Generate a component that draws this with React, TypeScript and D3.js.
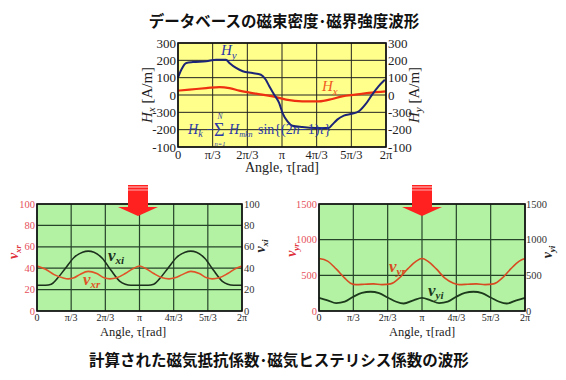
import React from "react";
import * as d3 from "d3";

// ---------- data ----------
const xTickVals = [0, 60, 120, 180, 240, 300, 360];
const xTickLabels = ["0", "π/3", "2π/3", "π", "4π/3", "5π/3", "2π"];

// Top chart (degrees, A/m)
const hyAngle = [0, 5.7, 14.4, 25.8, 48.8, 66, 83, 89, 100.5, 112, 129, 143.5, 152, 158, 166.5, 175, 181, 189.5, 198, 215, 238, 261, 267, 275.6, 287, 301, 313, 324, 336, 347, 358];
const hyValue = [100, 146, 185, 190, 194, 204, 204, 185, 156, 137, 127, 117, 88, 50, 2, -46, -104, -152, -177, -185, -190, -190, -171, -142, -119, -108, -94, -56, 2, 50, 88];
const hxAngle = [0, 20, 49, 72, 89, 106, 135, 164, 187, 215, 244, 267, 284, 307, 330, 360];
const hxValue = [25, 31, 40, 46, 40, 25, 8, -8, -27, -37, -37, -23, -8, 2, 12, 21];
const hTicks = [300, 200, 100, 0, -100, -200, -300];
const hTickLabels = ["300", "200", "100", "0", "-300", "-200", "-100"];

// Bottom-left chart
const vxiAngle = [0, 15, 25, 35, 50, 65, 80, 90, 100, 115, 130, 145, 155, 165, 180, 195, 205, 215, 230, 245, 260, 270, 280, 295, 310, 325, 335, 345, 360];
const vxiValue = [24, 24, 25, 30, 40, 50, 55, 56, 55, 49, 38, 28, 25, 24, 24, 24, 25, 30, 40, 50, 55, 56, 55, 49, 38, 28, 25, 24, 24];
const vxrAngle = [0, 15, 30, 45, 55, 65, 75, 90, 105, 118, 128, 140, 155, 170, 180, 190, 205, 220, 232, 242, 255, 270, 285, 298, 308, 320, 335, 350, 360];
const vxrValue = [42, 39, 34, 31, 30, 31, 34, 37, 35, 31, 30, 31, 35, 40, 42, 40, 35, 31, 30, 31, 34, 37, 35, 31, 30, 31, 35, 40, 42];
const vxTicks = [0, 20, 40, 60, 80, 100];

// Bottom-right chart
const vyrAngle = [0, 15, 30, 45, 55, 65, 80, 95, 110, 125, 140, 155, 170, 180, 190, 205, 220, 235, 245, 260, 275, 290, 305, 320, 335, 350, 360];
const vyrValue = [735, 700, 590, 460, 390, 370, 375, 380, 370, 380, 460, 590, 700, 735, 700, 590, 460, 390, 370, 375, 380, 370, 380, 460, 590, 700, 735];
const vyiAngle = [0, 15, 30, 45, 60, 75, 90, 105, 120, 135, 148, 165, 180, 195, 210, 225, 240, 255, 270, 285, 300, 315, 328, 345, 360];
const vyiValue = [185, 150, 110, 130, 200, 255, 270, 250, 190, 130, 105, 150, 185, 150, 110, 130, 200, 255, 270, 250, 190, 130, 105, 150, 185];
const vyTicks = [0, 500, 1000, 1500];

const SERIF = "'Liberation Serif', 'DejaVu Serif', serif";
const CJK = "'Noto Sans CJK JP', sans-serif";

type Series = { angle: number[]; value: number[]; color: string; width: number };

function Panel(props: {
  x0: number; x1: number; y0: number; y1: number;
  domain: [number, number]; ticks: number[]; tickLabels: string[];
  bg: string; grid: string; gridW: number;
  series: Series[];
  leftColor: string; rightColor: string; tickFont: number;
  xLabelY: number; xFont: number; titleY: number; titleFont: number; titleX?: number;
  leftLabelX: number; rightLabelX: number;
}) {
  const p = props;
  const x = d3.scaleLinear().domain([0, 360]).range([p.x0, p.x1]);
  const y = d3.scaleLinear().domain(p.domain).range([p.y1, p.y0]);
  const line = d3.line<[number, number]>().x(d => x(d[0])).y(d => y(d[1])).curve(d3.curveMonotoneX);
  return (
    <g>
      <rect x={p.x0} y={p.y0} width={p.x1 - p.x0} height={p.y1 - p.y0} fill={p.bg} />
      {xTickVals.map(v => (
        <line key={"gx" + v} x1={x(v)} x2={x(v)} y1={p.y0} y2={p.y1} stroke={p.grid} strokeWidth={p.gridW} />
      ))}
      {p.ticks.map(v => (
        <line key={"gy" + v} x1={p.x0} x2={p.x1} y1={y(v)} y2={y(v)} stroke={p.grid} strokeWidth={p.gridW} />
      ))}
      {p.series.map((s, i) => (
        <path key={"s" + i} d={line(s.angle.map((a, j) => [a, s.value[j]] as [number, number])) || ""}
          fill="none" stroke={s.color} strokeWidth={s.width} strokeLinejoin="round" />
      ))}
      <rect x={p.x0} y={p.y0} width={p.x1 - p.x0} height={p.y1 - p.y0} fill="none" stroke="#111" strokeWidth={1.6} />
      {p.ticks.map((v, i) => (
        <text key={"ly" + v} x={p.leftLabelX} y={y(v)} dy="0.35em" textAnchor="end" fontFamily={SERIF}
          fontSize={p.tickFont} fill={p.leftColor}>{p.tickLabels[i]}</text>
      ))}
      {p.ticks.map((v, i) => (
        <text key={"ry" + v} x={p.rightLabelX} y={y(v)} dy="0.35em" textAnchor="start" fontFamily={SERIF}
          fontSize={p.tickFont} fill={p.rightColor}>{p.tickLabels[i]}</text>
      ))}
      {xTickVals.map((v, i) => (
        <text key={"lx" + v} x={x(v)} y={p.xLabelY} textAnchor="middle" fontFamily={SERIF}
          fontSize={p.xFont} fill="#222">{xTickLabels[i]}</text>
      ))}
      <text x={p.titleX ?? (p.x0 + p.x1) / 2} y={p.titleY} textAnchor="middle" fontFamily={SERIF}
        fontSize={p.titleFont} fill="#222">Angle, τ[rad]</text>
    </g>
  );
}

function Arrow({ cx }: { cx: number }) {
  return (
    <g>
      <rect x={cx - 10} y={185} width={20} height={23} fill="#ff2020" />
      <path d={`M${cx - 20},207 L${cx + 20},207 L${cx},216 Z`} fill="#ff2020" />
      <line x1={cx - 10} x2={cx + 10} y1={187} y2={187} stroke="#ffd0d0" strokeWidth={1} />
      <line x1={cx - 10} x2={cx + 10} y1={190} y2={190} stroke="#ffb0b0" strokeWidth={1} />
    </g>
  );
}

export default function App() {
  return (
    <svg width={566} height={380} style={{ position: "absolute", left: 0, top: 0, background: "#fff" }}>
      <text x={284} y={27} textAnchor="middle" fontFamily={CJK} fontSize={15.5} fontWeight={600} fill="#111">
        データベースの磁束密度･磁界強度波形
      </text>

      <Panel x0={178} x1={386} y0={43} y1={147} domain={[-300, 300]} ticks={hTicks} tickLabels={hTickLabels}
        bg="#ffff8c" grid="#222" gridW={1} leftColor="#222" rightColor="#222" tickFont={13}
        series={[
          { angle: hxAngle, value: hxValue, color: "#ee3010", width: 2.2 },
          { angle: hyAngle, value: hyValue, color: "#1c2478", width: 2 },
        ]}
        xLabelY={159} xFont={12.5} titleY={172} titleFont={14} leftLabelX={176} rightLabelX={388} />
      <text transform="translate(152,95) rotate(-90)" textAnchor="middle" fontFamily={SERIF} fontSize={15} fill="#222">
        <tspan fontStyle="italic">H</tspan><tspan fontStyle="italic" fontSize={11} dy={3}>x</tspan><tspan dy={-3}> [A/m]</tspan>
      </text>
      <text transform="translate(419,95) rotate(-90)" textAnchor="middle" fontFamily={SERIF} fontSize={15} fill="#222">
        <tspan fontStyle="italic">H</tspan><tspan fontStyle="italic" fontSize={11} dy={3}>y</tspan><tspan dy={-3}> [A/m]</tspan>
      </text>
      <text x={221} y={55} fontFamily={SERIF} fontStyle="italic" fontSize={15} fill="#2a38a8">
        H<tspan fontSize={11} dy={4}>y</tspan>
      </text>
      <text x={322} y={91} fontFamily={SERIF} fontStyle="italic" fontSize={15} fill="#f05a20">
        H<tspan fontSize={11} dy={4}>x</tspan>
      </text>
      <g fontFamily={SERIF} fill="#2a38a8">
        <text x={188} y={134} fontSize={14} fontStyle="italic">
          H<tspan fontSize={10} dy={3}>k</tspan><tspan dy={-3}> −</tspan>
        </text>
        <text x={214} y={136} fontSize={18}>Σ</text>
        <text x={220} y={119} fontSize={7.5} fontStyle="italic" textAnchor="middle">N</text>
        <text x={220} y={146} fontSize={6.5} fontStyle="italic" textAnchor="middle">n=1</text>
        <text x={229} y={134} fontSize={14} fontStyle="italic">
          H<tspan fontSize={8} dy={3}>mkn</tspan>
        </text>
        <text x={258} y={134} fontSize={14}>
          sin{"{"}(2<tspan fontStyle="italic">n</tspan>−1)<tspan fontStyle="italic">τ</tspan>{"}"}
        </text>
      </g>

      <Panel x0={37} x1={242} y0={204} y1={311} domain={[0, 100]} ticks={vxTicks} tickLabels={vxTicks.map(String)}
        bg="#b2f2a2" grid="#27432a" gridW={1.2} leftColor="#e6505c" rightColor="#333" tickFont={10.5}
        series={[
          { angle: vxiAngle, value: vxiValue, color: "#1d2f1d", width: 1.6 },
          { angle: vxrAngle, value: vxrValue, color: "#e05228", width: 1.6 },
        ]}
        xLabelY={321} xFont={10} titleY={336} titleFont={12.5} titleX={133} leftLabelX={35} rightLabelX={244} />
      <text transform="translate(18,252) rotate(-90)" textAnchor="middle" fontFamily={SERIF} fontWeight="bold"
        fontStyle="italic" fontSize={14} fill="#e0303a">ν<tspan fontSize={9} dy={3}>xr</tspan></text>
      <text transform="translate(265,246) rotate(-90)" textAnchor="middle" fontFamily={SERIF} fontWeight="bold"
        fontStyle="italic" fontSize={14} fill="#222">ν<tspan fontSize={9} dy={3}>xi</tspan></text>
      <text x={108} y={261} fontFamily={SERIF} fontWeight="bold" fontStyle="italic" fontSize={17} fill="#1d2f1d">
        ν<tspan fontSize={11} dy={3}>xi</tspan>
      </text>
      <text x={83} y={285} fontFamily={SERIF} fontWeight="bold" fontStyle="italic" fontSize={17} fill="#e05228">
        ν<tspan fontSize={11} dy={3}>xr</tspan>
      </text>

      <Panel x0={319} x1={525} y0={204} y1={311} domain={[0, 1500]} ticks={vyTicks} tickLabels={vyTicks.map(String)}
        bg="#b2f2a2" grid="#27432a" gridW={1.2} leftColor="#e6505c" rightColor="#333" tickFont={10.5}
        series={[
          { angle: vyrAngle, value: vyrValue, color: "#d84a22", width: 1.6 },
          { angle: vyiAngle, value: vyiValue, color: "#1d3a1d", width: 1.8 },
        ]}
        xLabelY={321} xFont={10} titleY={336} titleFont={12.5} leftLabelX={317} rightLabelX={526} />
      <text transform="translate(296,250) rotate(-90)" textAnchor="middle" fontFamily={SERIF} fontWeight="bold"
        fontStyle="italic" fontSize={14} fill="#e0303a">ν<tspan fontSize={9} dy={3}>yr</tspan></text>
      <text transform="translate(552,252) rotate(-90)" textAnchor="middle" fontFamily={SERIF} fontWeight="bold"
        fontStyle="italic" fontSize={14} fill="#222">ν<tspan fontSize={9} dy={3}>yi</tspan></text>
      <text x={389} y={272} fontFamily={SERIF} fontWeight="bold" fontStyle="italic" fontSize={17} fill="#d84a22">
        ν<tspan fontSize={11} dy={3}>yr</tspan>
      </text>
      <text x={428} y={296} fontFamily={SERIF} fontWeight="bold" fontStyle="italic" fontSize={17} fill="#1d3a1d">
        ν<tspan fontSize={11} dy={3}>yi</tspan>
      </text>

      <Arrow cx={138} />
      <Arrow cx={422} />

      <text x={279} y={366} textAnchor="middle" fontFamily={CJK} fontSize={15.5} fontWeight={600} fill="#111">
        計算された磁気抵抗係数･磁気ヒステリシス係数の波形
      </text>
    </svg>
  );
}
